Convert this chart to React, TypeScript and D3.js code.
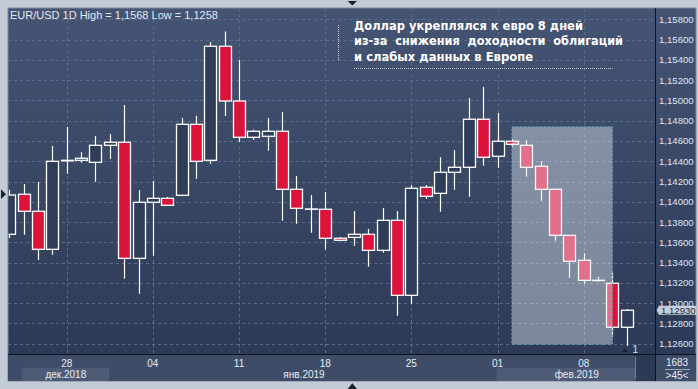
import React from "react";
import * as d3 from "d3";

const dates = [
  "2018-12-24","2018-12-25","2018-12-26","2018-12-27","2018-12-28","2018-12-30","2018-12-31",
  "2019-01-01","2019-01-02","2019-01-03","2019-01-04","2019-01-06","2019-01-07","2019-01-08",
  "2019-01-09","2019-01-10","2019-01-11","2019-01-13","2019-01-14","2019-01-15","2019-01-16",
  "2019-01-17","2019-01-18","2019-01-20","2019-01-21","2019-01-22","2019-01-23","2019-01-24",
  "2019-01-25","2019-01-27","2019-01-28","2019-01-29","2019-01-30","2019-01-31","2019-02-01",
  "2019-02-03","2019-02-04","2019-02-05","2019-02-06","2019-02-07","2019-02-08","2019-02-10",
  "2019-02-11","2019-02-12",
];
const opens = [
  1.13679,1.14074,1.13906,1.13531,1.14404,1.14409,1.14389,1.14557,1.14587,1.13442,1.13995,
  1.14034,1.14064,1.14764,1.14409,1.15534,1.14994,1.14636,1.14646,1.14695,1.14123,1.13927,
  1.13926,1.13640,1.13649,1.13679,1.13521,1.13817,1.13077,1.14143,1.14083,1.14291,1.14340,
  1.14814,1.14449,1.14597,1.14557,1.14350,1.14123,1.13669,1.13423,1.13225,1.13196,1.12762,
];
const highs = [
  1.14116,1.14175,1.14195,1.14550,1.14738,1.14488,1.14649,1.14668,1.14955,1.14116,1.14205,
  1.14047,1.14826,1.14849,1.15576,1.15680,1.15399,1.14711,1.14826,1.14886,1.14254,1.14067,
  1.14096,1.13652,1.13909,1.13731,1.13939,1.13909,1.14162,1.14165,1.14439,1.14511,1.15024,
  1.15132,1.14876,1.14616,1.14606,1.14402,1.14123,1.13669,1.13492,1.13261,1.13300,1.12942,
];
const lows = [
  1.13643,1.13675,1.13425,1.13478,1.14277,1.14385,1.14198,1.14422,1.13241,1.13093,1.13468,
  1.13965,1.14060,1.14228,1.14376,1.14846,1.14593,1.14612,1.14504,1.13813,1.13784,1.13695,
  1.13527,1.13620,1.13567,1.13359,1.13498,1.12876,1.12994,1.14027,1.13902,1.14119,1.14050,
  1.14356,1.14336,1.14537,1.14247,1.14011,1.13616,1.13251,1.13192,1.13211,1.12669,1.12580,
];
const closes = [
  1.14067,1.13906,1.13531,1.14399,1.14409,1.14429,1.14557,1.14587,1.13442,1.13995,1.14034,
  1.13965,1.14764,1.14399,1.15534,1.14994,1.14636,1.14695,1.14695,1.14123,1.13936,1.13929,
  1.13640,1.13620,1.13679,1.13521,1.13817,1.13077,1.14133,1.14054,1.14291,1.14340,1.14814,
  1.14439,1.14597,1.14567,1.14340,1.14123,1.13669,1.13413,1.13225,1.13226,1.12762,1.12930,
];

const dayTicks = ["2018-12-28","2019-01-04","2019-01-11","2019-01-18","2019-01-25","2019-02-01","2019-02-08"];
const dayTickLabels = ["28","04","11","18","25","01","08"];
const monthLabels = ["дек.2018","янв.2019","фев.2019"];
const priceTicks = d3.range(0, 17).map((i) => 1.126 + i * 0.002);
const titleText = "EUR/USD 1D High = 1,1568 Low = 1,1258";
const noteLines = [
  "Доллар укреплялся к евро 8 дней",
  "из-за  снижения  доходности  облигаций",
  "и слабых данных в Европе",
];
const lastPrice = 1.1293;
const highlightStart = "2019-02-03";
const highlightEnd = "2019-02-11";
const highlightTop = 1.1474;
const highlightBottom = 1.12594;

const W = 698, H = 389;
const PL = 8, PT = 8, PR = 655.5, PB = 354.5, AR = 696, TB = 381;

export default function App() {
  const idx = (d: string) => dates.indexOf(d);
  const x = d3.scaleLinear().domain([idx("2018-12-28"), idx("2019-02-08")]).range([66.7, 583.7]);
  const y = d3.scaleLinear().domain([1.126, 1.158]).range([343.7, 19.3]);
  const fmt = (v: number) => v.toFixed(5).replace(".", ",");
  const bodyW = 12;
  const font = "'Liberation Sans', Arial, sans-serif";

  const hx0 = x(idx(highlightStart));
  const hx1 = x(idx(highlightEnd));
  const ly = y(lastPrice);

  return (
    <svg width={W} height={H} style={{ position: "absolute", left: 0, top: 0 }} fontFamily={font}>
      <defs>
        <linearGradient id="bg" x1="0" y1="0" x2="0" y2="1">
          <stop offset="0%" stopColor="#445472" />
          <stop offset="100%" stopColor="#2b3855" />
        </linearGradient>
        <clipPath id="plot">
          <rect x={PL + 0.5} y={PT} width={PR - PL - 0.5} height={PB - PT} />
        </clipPath>
      </defs>
      <rect x={0} y={0} width={W} height={H} fill="#c3cbd7" />
      <rect x={PL} y={PT} width={AR - PL} height={TB - PT} fill="url(#bg)" stroke="#7f8a9c" strokeWidth={1} />
      {/* time axis bar */}
      <rect x={PL} y={PB} width={AR - PL} height={TB - PB} fill="#3e4c68" />
      <rect x={21.7} y={367.7} width={87.3} height={13.3} fill="#4d5b77" />
      <rect x={496.7} y={367.7} width={138.3} height={13.3} fill="#4d5b77" />
      <rect x={635} y={PB} width={PR - 635} height={TB - PB} fill="#2d3a56" />
      <line x1={635.5} x2={635.5} y1={PB + 2} y2={TB - 2} stroke="#6f7d98" strokeWidth={1} />

      {/* grid */}
      <g stroke="#5b6b8a" strokeWidth={1} strokeDasharray="3,3">
        {priceTicks.map((p, i) => (
          <line key={"h" + i} x1={PL} x2={PR} y1={Math.round(y(p)) + 0.5} y2={Math.round(y(p)) + 0.5} />
        ))}
        {dayTicks.map((d, i) => (
          <line key={"v" + i} x1={Math.round(x(idx(d))) + 0.5} x2={Math.round(x(idx(d))) + 0.5} y1={PT} y2={PB} />
        ))}
      </g>

      {/* title */}
      <text x={10} y={19} fontSize={11} fill="#e3e9f3">{titleText}</text>

      {/* annotation */}
      <line x1={338.5} x2={338.5} y1={25} y2={60} stroke="#c8d0e0" strokeWidth={1} strokeDasharray="1,1" />
      <line x1={354} x2={612.7} y1={68.5} y2={68.5} stroke="#c8d0e0" strokeWidth={1} strokeDasharray="1,1" />
      {noteLines.map((t, i) => (
        <text
          key={"n" + i}
          x={354}
          y={29.5 + i * 15.5}
          fontSize={13}
          fontWeight="bold"
          fill="#ffffff"
          fontFamily="'DejaVu Sans', Verdana, sans-serif"
          style={{ whiteSpace: "pre" }}
          textLength={[229, 269, 179][i]}
          lengthAdjust="spacingAndGlyphs"
        >
          {t}
        </text>
      ))}

      {/* candles */}
      <g clipPath="url(#plot)">
        {dates.map((d, i) => {
          const cx = Math.round(x(i)) + 0.5;
          const o = opens[i], c = closes[i];
          const up = c >= o;
          const yt = y(Math.max(o, c));
          const yb = y(Math.min(o, c));
          return (
            <g key={d}>
              <line x1={cx} x2={cx} y1={y(highs[i])} y2={y(lows[i])} stroke="#ffffff" strokeWidth={1.2} />
              <rect
                x={cx - bodyW / 2}
                y={yt}
                width={bodyW}
                height={Math.max(yb - yt, 0.3)}
                fill={up ? "#2f3d5a" : "#dc143c"}
                stroke="#ffffff"
                strokeWidth={1.3}
              />
            </g>
          );
        })}
        <rect
          x={hx0}
          y={y(highlightTop)}
          width={hx1 - hx0}
          height={y(highlightBottom) - y(highlightTop)}
          fill="rgba(236,241,248,0.42)"
          stroke="#5fa3b0"
          strokeWidth={1}
          strokeDasharray="2,2"
        />
      </g>

      {/* axis lines */}
      <line x1={PR} x2={PR} y1={PT} y2={TB} stroke="#0d1320" strokeWidth={1} />
      <line x1={PL} x2={AR} y1={PB} y2={PB} stroke="#0d1320" strokeWidth={1} />

      {/* price labels */}
      {priceTicks.map((p, i) => (
        <text key={"p" + i} x={659} y={y(p) + 3.5} fontSize={9.6} fill="#dfe7f6">{fmt(p)}</text>
      ))}
      {/* last price marker */}
      <path
        d={`M656.7,${ly} L659,${ly - 4.5} L696.5,${ly - 4.5} L696.5,${ly + 4.5} L659,${ly + 4.5} Z`}
        fill="#c9ced8"
      />
      <text x={661} y={ly + 3.5} fontSize={9.6} fill="#1f2a44">{fmt(lastPrice)}</text>

      {/* day labels */}
      {dayTicks.map((d, i) => (
        <text key={"d" + i} x={x(idx(d))} y={366.5} fontSize={10} fill="#e6ecf5" textAnchor="middle">
          {dayTickLabels[i]}
        </text>
      ))}
      {monthLabels.map((m, i) => (
        <text key={"m" + i} x={[65.8, 304, 576.7][i]} y={377.5} fontSize={10} fill="#e6ecf5" textAnchor="middle">
          {m}
        </text>
      ))}

      {/* bottom-right box */}
      <text x={677} y={365.5} fontSize={10} fill="#e6ecf5" textAnchor="middle">1683</text>
      <line x1={665} x2={690} y1={369.5} y2={369.5} stroke="#9aa8c0" strokeWidth={1} />
      <text x={677} y={378.5} fontSize={10} fill="#e6ecf5" textAnchor="middle">&gt;45&lt;</text>

      {/* small marker */}
      <path d="M621.7,352.3 L625,348.3 L628.3,352.3 Z" fill="#1a2236" />
      <text x={632.5} y={352.5} fontSize={10} fill="#cfe0ff">1</text>

      {/* edge triangles */}
      <path d="M347.7,1 L357,1 L352.3,5.5 Z" fill="#1a1f2e" />
      <path d="M347.7,389 L357,389 L352.3,383.3 Z" fill="#1a1f2e" />
      <path d="M1,189.3 L6,194.2 L1,199 Z" fill="#1a1f2e" />
    </svg>
  );
}
